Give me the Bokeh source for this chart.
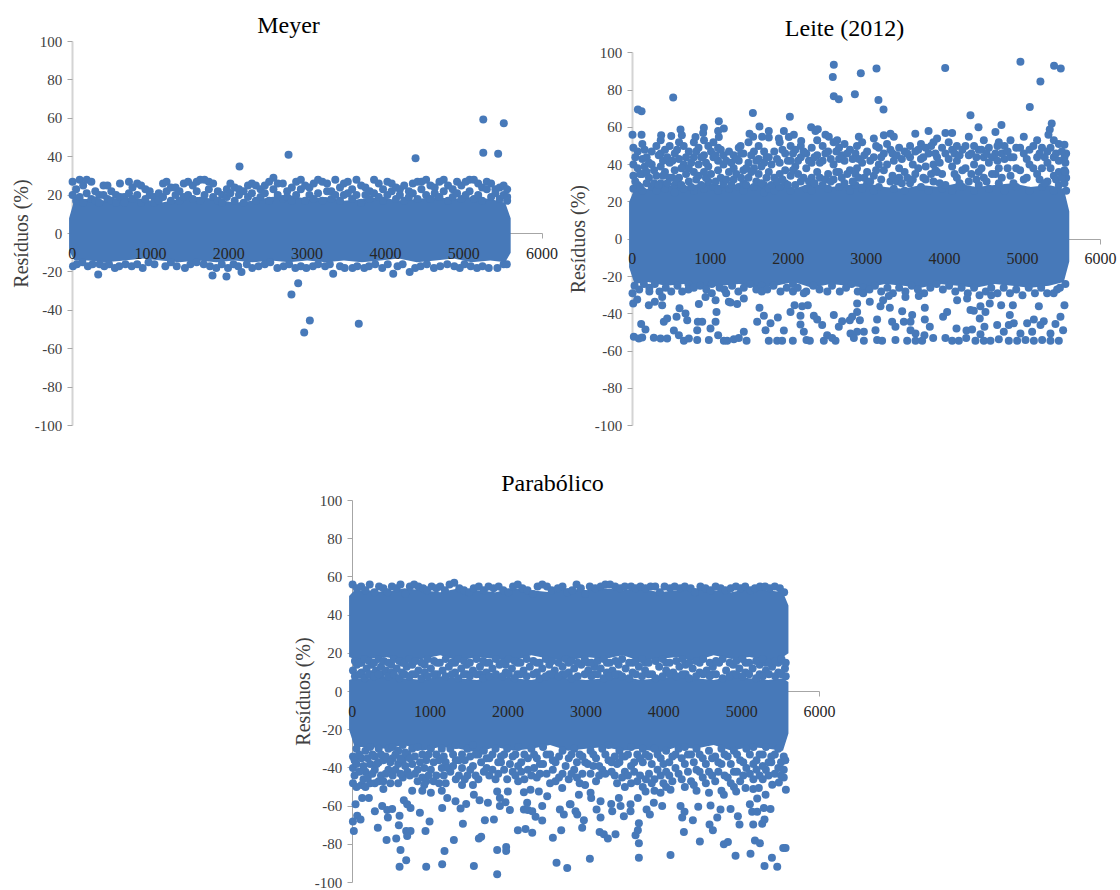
import math
from bokeh.embed import file_html
from bokeh.layouts import column, row
from bokeh.models import FixedTicker, Label, LinearAxis, Range1d
from bokeh.plotting import figure
from bokeh.resources import INLINE

x_ticks = [0, 1000, 2000, 3000, 4000, 5000, 6000]
y_ticks = [-100, -80, -60, -40, -20, 0, 20, 40, 60, 80, 100]
y_label = "Resíduos (%)"

# Saturated cores: envelope of the merged dots
core_x = [-40,30,200,430,670,900,1130,1370,1600,1840,2070,2300,2540,2770,3000,3240,3470,3700,3940,4170,4400,4640,4870,5100,5340,5530,5600]
meyer_hi = [8,18,18,17,19,18,16,18,19,18,16,17,19,20,18,19,17,18,19,17,18,19,18,19,18,16,8]
meyer_lo = [-9,-14,-14,-15,-14,-13,-14,-15,-14,-15,-14,-15,-14,-15,-14,-15,-14,-15,-14,-13,-15,-14,-13,-15,-14,-15,-10]
leite_hi = [20,27,27,29,28,30,29,28,30,29,27,30,28,29,30,28,27,29,28,30,28,29,30,28,29,27,15]
leite_lo = [-15,-24,-23,-25,-24,-26,-25,-24,-26,-25,-23,-26,-24,-25,-26,-24,-25,-26,-24,-25,-26,-24,-25,-26,-25,-23,-12]
para_top_hi = [50,53,53,52,54,53,52,54,53,52,54,53,52,54,53,54,53,54,52,53,54,53,52,54,53,52,45]
para_top_lo = [18,17,17,18,16,17,19,16,18,17,16,19,17,16,18,17,19,16,17,18,16,19,17,18,16,18,20]
para_low_hi = [6,7,7,8,7,6,8,7,6,8,7,6,8,7,6,7,8,6,7,8,7,6,8,7,6,7,5]
para_low_lo = [-20,-29,-29,-30,-28,-31,-29,-30,-32,-29,-31,-30,-28,-31,-30,-29,-31,-30,-32,-29,-30,-28,-31,-29,-30,-31,-22]

# Each row: x, then the y values read at that x
meyer_upper = [[5,27,20],[50,23,17],[95,28,19],[140,25,16],[185,28,21],[245,27,18],[295,22,17],[345,20,16],[400,25,20],[450,25,18],[500,22,17],[560,20,16],[610,26,19],[665,19,16],[725,27,21],[770,24,18],[830,26,20],[880,25,16],[935,23,18],[990,22,20],[1045,19,16],[1105,21,17],[1160,26,19],[1205,27,22],[1260,24,17],[1320,24,20],[1370,22,17],[1425,26,19],[1480,27,20],[1540,25,18],[1590,27,22],[1635,28,17],[1690,28,20],[1745,27,23],[1800,26,19],[1860,22,17],[1915,20,16],[1975,23,19],[2020,26,21],[2075,24,17],[2130,23,20],[2190,22,16],[2245,25,19],[2295,26,21],[2345,25,17],[2405,23,19],[2460,25,21],[2515,27,17],[2570,29,23],[2625,26,20],[2690,26,18],[2745,22,19],[2805,24,17],[2860,27,20],[2920,28,23],[2975,25,17],[3030,24,20],[3085,26,18],[3140,28,21],[3195,27,17],[3255,26,22],[3310,22,18],[3360,28,20],[3420,24,17],[3470,26,20],[3520,27,21],[3575,23,18],[3630,28,20],[3690,25,16],[3745,24,20],[3800,22,18],[3855,28,21],[3915,26,19],[3970,23,17],[4025,27,20],[4080,26,22],[4135,24,18],[4185,23,20],[4240,25,17],[4300,22,19],[4350,26,21],[4410,27,18],[4460,27,23],[4520,28,20],[4575,25,18],[4630,24,21],[4690,27,19],[4745,28,22],[4800,25,17],[4860,23,19],[4915,27,21],[4970,25,18],[5025,27,20],[5075,28,22],[5130,28,18],[5185,26,20],[5235,24,17],[5295,27,23],[5350,26,19],[5405,23,21],[5460,24,18],[5510,25,20],[5555,23,19,17]]
meyer_lower = [[10,-17],[60,-16],[130,-15],[200,-17],[260,-16],[350,-16],[410,-17],[470,-16],[545,-18],[600,-17],[680,-16],[760,-17],[830,-16],[900,-18],[975,-15],[1050,-16],[1190,-17],[1260,-15],[1335,-17],[1440,-18],[1510,-16],[1590,-15],[1680,-16],[1760,-17],[1840,-18],[1910,-16],[1990,-18],[2060,-16],[2120,-17],[2230,-16],[2300,-18],[2380,-17],[2460,-16],[2530,-15],[2620,-18],[2700,-17],[2770,-16],[2850,-18],[2920,-17],[2990,-18],[3075,-17],[3140,-16],[3230,-17],[3290,-16],[3420,-17],[3480,-18],[3580,-18],[3640,-17],[3730,-18],[3790,-17],[3870,-16],[3960,-18],[4030,-16],[4155,-17],[4220,-16],[4380,-18],[4450,-17],[4530,-16],[4620,-18],[4700,-17],[4790,-16],[4880,-17],[4950,-18],[5010,-16],[5090,-17],[5170,-18],[5240,-17],[5320,-18],[5430,-18],[5510,-16],[5550,-16]]
meyer_x = [2137,2763,5250,5512,5250,5440,4385,2800,2886,2963,3035,3660,3333,4100,4310,332,1792,1970,2162]
meyer_y = [34.9,41,59.4,57.4,42,41.6,39.2,-31.8,-25.9,-51.6,-45.3,-47,-21,-21,-20,-21.3,-21.9,-22.4,-20]

leite_upper = [[15,49,40,34,27],[70,47,38,29],[130,51,43,35,26],[185,44,36,30],[250,47,40,28],[310,50,34,26],[365,53,46,39,30],[420,48,36,27],[480,50,41,33],[545,46,37,29,25],[600,52,43,33],[660,50,40,27],[725,47,38,31],[790,52,44,36,26],[850,49,40,34],[920,53,45,36,27],[975,50,39,31],[1040,52,44,28],[1100,49,42,37,26],[1170,45,40,30],[1240,47,36,27],[1300,45,38,32],[1365,49,42,28],[1425,46,37,30,26],[1490,52,41,33],[1560,47,38,28],[1620,50,43,35],[1690,47,41,29,25],[1750,44,36,27],[1820,47,33,26],[1890,52,41,35,28],[1960,46,37,30],[2030,50,42,34,26],[2090,48,39,29],[2160,50,44,31],[2230,46,38,27],[2300,49,41,33,26],[2370,53,45,36],[2440,50,42,29],[2510,47,35,27],[2580,52,40,32],[2650,49,43,36,28],[2720,51,42,30],[2790,48,37,26],[2860,46,35,29],[2904,55,43,33],[2946,52,41,27],[3010,47,36,30],[3096,54,44,34,26],[3160,49,40,28],[3224,55.7,46,37],[3309,56.6,48,31],[3352,55,42,27],[3420,49,38,33],[3490,47,36,26],[3560,50,44,30],[3627,56.6,47,35],[3700,51,43,28],[3760,49,39,32],[3797,58,46,26],[3860,52,40,31],[3906,54,44,36],[3970,49,35,27],[4013,57,46,29],[4099,57,48,39,26],[4160,50,42,33],[4230,48,37,28],[4313,55,45,31],[4380,50,40,26],[4440,48,36,29],[4505,53,44,33],[4570,49,41,27],[4654,57.5,46,35],[4697,52,38,30],[4770,50,43,26],[4847,53,44,34],[4920,49,38,28],[5017,55,46,32],[5090,48,40,26],[5188,53,44,35],[5250,49,38,28],[5320,47,41,31],[5402,53,44,34,26],[5466,51,42,36,29],[5538,50.7,44,37,30],[5560,46,33,26]]
leite_upper2 = [[40,44,31],[100,35,28],[160,48,39],[215,41,33],[280,37,30],[340,45,29],[395,42,34],[450,44,30],[515,42,33],[575,48,31],[630,38,29],[690,44,35],[755,41,28],[820,47,32],[885,44,29],[945,41,33],[1010,47,35],[1070,45,31],[1135,48,33],[1205,42,32],[1270,41,29],[1335,43,35],[1395,46,33],[1460,38,29],[1525,45,36],[1590,42,31],[1655,39,30],[1720,44,33],[1785,40,29],[1855,43,31],[1925,48,32],[1995,42,29],[2060,46,37],[2125,42,35],[2195,47,33],[2265,42,31],[2335,44,30],[2405,41,33],[2475,46,32],[2545,43,31],[2615,47,36],[2685,45,33],[2755,46,35],[2825,43,31],[2880,50,38],[2975,45,33],[3050,42,31],[3125,50,37],[3190,44,32],[3265,51,40],[3335,46,34],[3390,45,31],[3455,43,30],[3525,46,33],[3595,40,32],[3665,48,38],[3730,44,33],[3830,50,35],[3885,46,37],[3940,41,30],[4055,52,43],[4130,46,35],[4195,45,30],[4270,50,38],[4345,46,35],[4410,44,32],[4475,48,38],[4540,46,31],[4610,44,35],[4680,50,42],[4735,46,33],[4810,47,38],[4885,44,30],[4970,49,37],[5055,43,33],[5140,50,38],[5220,46,32],[5285,44,30],[5360,49,38],[5430,46,32],[5505,47,33],[5550,41,36]]
leite_lower = [[30,-25],[90,-27],[150,-24],[220,-26,-28],[290,-24],[350,-28],[430,-26],[500,-28],[580,-25],[640,-28],[720,-24,-27],[790,-26],[870,-25],[950,-27],[1020,-24,-29],[1120,-26],[1180,-27],[1280,-25],[1360,-28],[1430,-26],[1510,-24],[1590,-27],[1660,-25,-28],[1730,-27],[1810,-25],[1900,-28],[1980,-26],[2060,-24,-28],[2120,-26],[2230,-28],[2320,-25],[2400,-27],[2500,-28],[2560,-25],[2660,-28],[2740,-26],[2810,-24],[2890,-28],[2960,-26,-29],[3040,-27],[3110,-25],[3190,-28],[3270,-26],[3340,-29],[3420,-26],[3500,-28],[3580,-25],[3660,-27],[3740,-29],[3820,-26],[3900,-24],[3980,-27],[4060,-25],[4140,-28],[4220,-26],[4300,-29],[4380,-26],[4450,-30],[4530,-28],[4600,-26,-30],[4680,-29],[4760,-26],[4840,-29],[4920,-27],[5000,-30],[5080,-26],[5160,-29],[5240,-26],[5400,-29],[5480,-26],[5550,-24]]
leite_x = [525,73,120,1546,2020,2583,2570,2583,2647,2929,3130,2853,3155,3220,4010,4974,5230,5405,5491,5094,4334,4437,4731,5375,5350,5333,4,120,371,500,619,636,918,909,811,1110,1174,1101,1110,1388,1503,1550,1631,1665,1750,1750,1943,1879,2071,2007,2165,2293,2348,2378,2476,2519,2626,4,13,64,213,290,384,384,115,170,21,85,128,277,363,448,405,448,568,606,683,705,534,598,662,726,833,854,841,897,833,982,1003,1068,1080,1068,939,1101,1174,1217,1238,1260,1204,1345,1430,1302,1366,1430,1465,1631,1601,1687,1772,1866,1708,1750,1857,1921,1943,2058,2028,2080,2199,2178,2156,2156,2199,2233,2276,2250,2327,2370,2434,2455,2498,2583,2562,2605,2647,2882,3044,2882,2818,2788,2917,3138,2690,2797,2882,2968,2840,2968,3117,3138,3202,3181,3215,3288,3301,3330,3373,3480,3459,3587,3566,3566,3373,3523,3630,3630,3715,3744,3856,3749,3749,3813,3672,3501,3983,4035,4013,4099,4185,4155,4279,4283,4355,4163,4291,4334,4377,4453,4462,4526,4581,4513,4462,4398,4505,4590,4697,4676,4727,4877,4838,4825,4761,4889,4825,4974,4932,5060,5146,5273,5231,5210,5124,5039,5146,5252,5359,5359,5466,5423,5487,5538,5521,5316,5444]
leite_y = [76,69.5,68.6,67.7,65.7,93.6,87,76.7,75,89,91.5,77.7,74.7,69.5,91.8,95.2,84.5,93,91.5,70.9,66.5,60,61.3,62,58.8,56,56,56,55.7,55.4,58.8,55.7,59.7,57,54.8,63.2,59.3,58,54.8,50,56.6,55,60.4,55,58,54.5,58,54,56,54.8,52.7,60,58,59,56,55,53,-29,-34.5,-32.3,-35.4,-33.6,-31,-35.4,-45.5,-48.4,-52.3,-53.2,-52.7,-52.9,-53.2,-53.2,-44.3,-42.5,-41.6,-37,-39.9,-43.4,-49,-51.5,-54.5,-53.2,-54,-34.8,-44.3,-44.3,-48.8,-54,-47.9,-44.3,-39,-32.7,-31,-51.5,-54.5,-54.5,-33.6,-34,-29,-34.8,-31.8,-53.7,-53,-49.6,-54.5,-36.8,-44.3,-41,-45,-42,-48.8,-54.5,-54.5,-54.5,-49,-54.5,-39,-35.4,-29,-36,-41,-45.7,-49.6,-54,-54.5,-35.4,-41,-43,-46,-54.5,-51.5,-40.7,-53,-54.5,-47,-34.5,-33.6,-39,-41.6,-43.4,-43.4,-43,-44,-50.5,-49.6,-49.6,-53,-54.5,-48.8,-54,-54.5,-36,-32.7,-30.5,-36.8,-44.3,-47,-44.3,-38.6,-40.7,-44.3,-48.8,-54,-54.5,-50.5,-54.5,-54.5,-51.5,-53,-36.8,-43,-47,-30.5,-31,-41.6,-39,-53,-54.5,-54.5,-47.9,-53,-49,-48.4,-32.7,-31.8,-38,-38.4,-42.5,-36,-39,-34.5,-47,-51,-54.5,-54.5,-54.5,-53.7,-46,-35.4,-35.4,-40.7,-46,-49.6,-45,-54.5,-50.5,-54.5,-45,-43,-44,-46,-36,-49.6,-54,-54.5,-54,-50.5,-54.5,-54.5,-45.5,-41.6,-35.4,-48.8,-29,-27]

para_top_row = [[5,56],[60,54],[115,55],[170,53],[225,56],[285,52],[345,55],[400,54],[455,52],[510,55],[570,54],[620,56],[680,51],[740,55],[795,56],[850,55],[910,54],[960,53],[1020,55],[1080,54],[1130,55],[1190,53],[1250,56],[1310,57],[1375,54],[1435,53],[1500,52],[1560,54],[1625,55],[1690,53],[1750,55],[1815,54],[1880,55],[1940,53],[2005,52],[2065,55],[2125,56],[2185,54],[2250,53],[2320,51],[2380,55],[2440,56],[2500,55],[2560,53],[2640,54],[2700,55],[2760,52],[2825,53],[2880,56],[2935,54],[2990,51],[3050,55],[3120,54],[3190,55],[3250,56],[3310,56],[3375,55],[3440,54],[3500,55],[3580,55],[3640,54],[3700,55],[3765,54],[3830,55],[3890,55],[3950,52],[4010,55],[4080,54],[4140,55],[4210,54],[4270,55],[4345,54],[4400,52],[4470,55],[4535,54],[4600,53],[4665,55],[4730,54],[4790,53],[4860,54],[4925,55],[4985,54],[5045,55],[5110,53],[5170,54],[5235,55],[5300,55],[5360,54],[5425,55],[5490,54],[5545,52]]
para_mid = [[10,11],[60,14],[120,10,15],[185,12],[250,9,14],[305,11],[370,13,9],[430,11],[500,14,10],[570,12],[640,10,15],[700,13],[770,9,14],[850,11],[930,14,10],[1010,12],[1090,15,9],[1160,11],[1240,13],[1320,10,15],[1400,12],[1470,14,9],[1550,11],[1640,13,9],[1720,10,15],[1800,12],[1890,14],[1970,10,14],[2050,12],[2120,15,9],[2200,11],[2280,13],[2370,10,15],[2440,12],[2530,14,9],[2600,11],[2700,13,9],[2780,10,15],[2850,12],[2940,14],[3030,11,15],[3110,9,13],[3190,12],[3270,15,10],[3340,11],[3420,14,9],[3510,12],[3600,10,15],[3680,13],[3760,11,15],[3850,9],[3940,13],[4030,11,15],[4120,10],[4200,13],[4280,9,14],[4370,12],[4460,15,10],[4550,11],[4630,13,9],[4710,15],[4800,11],[4890,14,9],[4970,12],[5050,15,10],[5140,12],[5230,14,9],[5310,11,15],[5390,13],[5470,10,15],[5555,12]]
para_edge = [[35,16,8],[95,15,9],[160,17,7],[215,16,9],[280,15,8],[340,17,9],[405,16],[465,15,8],[535,17,9],[605,16,7],[670,15,9],[735,17,8],[810,16,9],[890,15,7],[970,17,8],[1050,16,9],[1125,15],[1200,17,8],[1280,15,9],[1360,17,7],[1435,16,9],[1510,15,8],[1595,17,9],[1680,16,7],[1760,15,8],[1845,17,9],[1930,15,8],[2010,17,9],[2085,16,7],[2160,15,9],[2240,17,8],[2325,16,9],[2405,15,7],[2485,17,8],[2565,16,9],[2650,15,8],[2740,17,9],[2815,16,7],[2895,15,8],[2985,17,9],[3070,15,8],[3150,16,9],[3230,17,7],[3305,15,8],[3380,16,9],[3465,17,8],[3555,15,7],[3640,16,9],[3720,17,8],[3805,15,9],[3895,16,7],[3985,17,8],[4075,15,9],[4160,16,8],[4240,17,9],[4325,15,7],[4415,16,8],[4505,17,9],[4590,15,8],[4670,16,9],[4755,17,7],[4845,15,8],[4930,16,9],[5010,17,8],[5095,15,9],[5185,16,7],[5270,17,8],[5350,15,9],[5430,16,8],[5510,17,9],[5565,15,8]]
para_low = [[10,-34,-40,-48],[55,-30,-38,-50],[120,-35,-49],[170,-31,-42,-50],[230,-29,-38,-48],[290,-34,-41,-48],[340,-30,-37,-47],[400,-36,-47,-51],[465,-30,-41],[520,-29,-35,-44],[590,-31,-38,-48],[650,-28,-36,-45],[710,-33,-42],[770,-30,-38,-52],[840,-29,-41,-47],[900,-33,-45,-52],[950,-36,-47],[1010,-30,-41,-53],[1080,-33,-44],[1150,-30,-40,-52],[1200,-37,-48],[1260,-30,-42],[1330,-28,-36,-46],[1410,-33,-40,-49],[1480,-30,-44],[1550,-28,-39,-49],[1620,-33,-46],[1690,-31,-42],[1760,-35,-44],[1840,-30,-46],[1910,-34,-37],[1990,-30,-46],[2060,-34,-42],[2130,-29,-39,-47],[2210,-33,-46],[2300,-30,-44],[2370,-35,-45],[2450,-29,-38],[2540,-33,-48],[2610,-37,-47],[2700,-31,-43],[2780,-35,-46],[2850,-30,-41],[2920,-33,-48],[2990,-37,-49],[3060,-31,-43,-53],[3130,-35,-47],[3210,-30,-41],[3290,-28,-36],[3370,-34,-44],[3430,-31,-37],[3500,-34,-42,-50],[3580,-29,-39,-48],[3660,-33,-47],[3730,-30,-37,-50],[3810,-34,-43],[3880,-30,-46,-52],[3960,-35,-44],[4030,-31,-42,-50],[4110,-34,-47],[4190,-30,-43],[4270,-29,-38,-50],[4350,-33,-47],[4420,-30,-41,-52],[4500,-35,-45],[4580,-31,-42,-53],[4660,-34,-47],[4740,-30,-38,-52],[4820,-34,-45],[4900,-31,-42,-50],[4980,-36,-47],[5060,-30,-40],[5150,-29,-38,-46],[5230,-33,-44],[5310,-29,-41],[5380,-34,-37],[5470,-30,-40],[5540,-34,-41,-45]]
para_low2 = [[30,-36,-44],[90,-33,-42],[145,-39,-46],[200,-35,-45],[260,-33,-43],[315,-38],[370,-33,-44],[430,-34,-43],[490,-37,-48],[555,-33,-41],[620,-35,-43],[680,-32,-39],[740,-35,-44],[805,-34,-43],[870,-37],[925,-40,-49],[980,-33,-44],[1045,-37,-47],[1115,-36,-48],[1175,-34,-44],[1230,-40],[1295,-33,-39],[1370,-36,-44],[1445,-36,-46],[1515,-34,-41],[1585,-33,-44],[1655,-37],[1725,-35,-40],[1800,-33,-41],[1875,-37,-43],[1950,-33,-41],[2025,-38],[2095,-33,-44],[2170,-37,-42],[2255,-35,-41],[2335,-33,-40],[2410,-38,-43],[2495,-33,-43],[2575,-36,-41],[2655,-34,-45],[2740,-39],[2815,-33,-43],[2885,-37,-45],[2955,-34,-43],[3025,-38],[3095,-33,-39],[3170,-39,-44],[3250,-33,-43],[3330,-37,-42],[3400,-38,-48],[3465,-34,-45],[3540,-33,-44],[3620,-37,-42],[3695,-35,-44],[3770,-33,-46],[3845,-38,-48],[3920,-33,-41],[3995,-38,-48],[4070,-37,-44],[4150,-33,-40],[4230,-35,-46],[4310,-33,-42],[4385,-37,-49],[4460,-33,-42],[4540,-38,-48],[4620,-35,-44],[4700,-37,-42],[4780,-33,-44],[4860,-38,-48],[4940,-33,-42],[5020,-37,-44],[5105,-33,-43],[5190,-36,-41],[5270,-33,-39,-46],[5345,-37,-44],[5425,-33,-43],[5505,-37,-44],[5560,-36]]
para_x = [21,9,64,107,43,128,214,291,329,385,449,458,513,441,565,608,599,620,608,693,663,706,749,693,749,706,869,941,993,950,1155,1185,1155,1220,1305,1326,1391,1463,1421,1562,1635,1562,1626,1656,1703,1819,1742,1861,1861,1861,1896,1896,1968,2024,1977,1977,1998,2127,2225,2311,2204,2204,2255,2289,2246,2354,2439,2311,2439,2396,2503,2576,2623,2683,2760,2717,2666,2794,2696,3051,3680,4086,2952,2974,3188,3176,3230,3282,3380,3637,3667,3680,3680,3137,3188,2803,2867,2889,2910,3068,3325,3338,3423,3445,3487,3573,3573,3667,3779,3821,3766,3872,3979,3958,4086,4215,4266,4236,4373,4258,4442,4463,4587,4630,4686,4600,4728,4857,4951,4972,4771,4823,4921,5113,5170,5234,5293,5388,5456,5533,5563,5148,5263,5293,5105,5199,5134,5199,5285,5370,5306,5392,5477,5567,5049,5148,5220,4929,4771]
para_y = [-73,-68,-65,-67,-59,-55.7,-55.7,-62.7,-71.4,-60,-62,-66,-61.5,-77.8,-77,-65,-70,-83,-91.8,-88.4,-57,-59,-61,-73,-73,-75.7,-63.5,-73,-68,-91.8,-90.5,-83.5,-61,-55.7,-77.8,-57.5,-61.3,-58.9,-69.3,-54,-57,-91.3,-77,-76,-67.4,-67,-58.3,-83,-95.7,-52.3,-55.7,-60,-58,-62,-81.4,-83.5,-52.3,-72.6,-72,-74,-52.8,-61.8,-62,-51.4,-58.3,-65.6,-67.5,-62.7,-60,-52.3,-54.9,-76.6,-89.6,-72.6,-92.4,-64.4,-61.8,-59,-50.5,-87.5,-87,-85.6,-71.4,-67.4,-66,-73.6,-74.8,-77,-74.8,-75.3,-72.6,-69,-79.5,-61.8,-57.5,-59,-62.7,-64.4,-54,-55.7,-58.9,-62.7,-55.7,-60,-65.3,-62.7,-59,-55.7,-61.8,-64.4,-52.3,-58.3,-60,-53,-51.4,-60,-63,-66,-67.4,-73.6,-60.4,-78.5,-69.6,-72.7,-66,-59.7,-61.8,-61.5,-65.3,-69.6,-80,-78.8,-86,-84.9,-78,-79.5,-91.3,-87,-91.7,-82,-82,-69.6,-69.3,-67,-59,-56,-63,-63,-61,-61.5,-54,-48.8,-47.6,-51.4,-50.5,-51,-50.5,-52.3,-54]

BLUE = "#4779b9"
FONT = "Liberation Serif"


def flatten(rows):
    xs, ys = [], []
    for r in rows:
        for y in r[1:]:
            xs.append(r[0])
            ys.append(y)
    return xs, ys


def panel(title, fig_x, fig_y, w, h, x0, y0, sx, sy, title_c, ylab_x, axis_w, axis_c):
    """The frame fills the figure so that axes and labels are not clipped.
    x0, y0: page pixel of data (0, 0); sx, sy: pixels per data unit."""
    to_x = lambda px: (px - x0) / sx
    to_y = lambda py: (y0 - py) / sy
    p = figure(frame_width=w, frame_height=h,
               x_range=Range1d(to_x(fig_x), to_x(fig_x + w)),
               y_range=Range1d(to_y(fig_y + h), to_y(fig_y)),
               min_border=0, toolbar_location=None, output_backend="svg",
               background_fill_color="white", border_fill_color="white", outline_line_color=None)
    p.grid.visible = False

    # Axis line and ticks lie under the dots, as in the reference
    xa = p.xaxis[0]
    xa.fixed_location = 0
    xa.bounds = (0, 6000)
    xa.level = "underlay"
    xa.ticker = FixedTicker(ticks=x_ticks)
    xa.axis_line_color = "#a6a6a6"
    xa.major_tick_line_color = "#a6a6a6"
    xa.major_tick_out = 5
    xa.major_tick_in = 0
    xa.minor_tick_line_color = None
    xa.major_label_overrides = {t: "" for t in x_ticks}

    # The tick labels lie over the dots
    xl = LinearAxis(fixed_location=0, bounds=(0, 6000), ticker=FixedTicker(ticks=x_ticks),
                    axis_line_color=None, major_tick_line_color=None, minor_tick_line_color=None,
                    major_tick_out=5, major_tick_in=0, major_label_standoff=9,
                    major_label_text_font=FONT, major_label_text_font_size="16px",
                    major_label_text_color="#262626")
    p.add_layout(xl, "below")

    ya = p.yaxis[0]
    ya.fixed_location = 0
    ya.bounds = (-100, 100)
    ya.level = "underlay"
    ya.ticker = FixedTicker(ticks=y_ticks)
    ya.major_label_overrides = {t: str(t) for t in y_ticks}
    ya.axis_line_color = axis_c
    ya.axis_line_width = axis_w
    ya.major_tick_line_color = "#a6a6a6"
    ya.major_tick_out = 5
    ya.major_tick_in = 0
    ya.minor_tick_line_color = None
    ya.major_label_standoff = 5
    ya.major_label_text_font = FONT
    ya.major_label_text_font_size = "15px"
    ya.major_label_text_color = "#404040"

    p.add_layout(Label(x=to_x(title_c[0]), y=to_y(title_c[1]), text=title, text_font=FONT, text_font_size="24px",
                       text_color="black", text_align="center", text_baseline="middle"))
    p.add_layout(Label(x=to_x(ylab_x), y=0, text=y_label, angle=math.pi / 2, text_font=FONT, text_font_size="20px",
                       text_color="#404040", text_align="center", text_baseline="middle"))
    return p


def dots(p, xs, ys):
    p.scatter(xs, ys, size=8, marker="circle", fill_color=BLUE, line_color=None)


# Meyer
p1 = panel("Meyer", 0, 0, 560, 440, 71.7, 233, 0.0783, 1.92, (288, 24), 20, 2, "#d4d4d4")
p1.varea(core_x, meyer_lo, meyer_hi, fill_color=BLUE)
for rows in (meyer_upper, meyer_lower):
    dots(p1, *flatten(rows))
dots(p1, meyer_x, meyer_y)

# Leite (2012)
p2 = panel("Leite (2012)", 560, 0, 560, 440, 631.7, 238.7, 0.07805, 1.865, (844, 27), 577, 2, "#d4d4d4")
p2.varea(core_x, leite_lo, leite_hi, fill_color=BLUE)
for rows in (leite_upper, leite_upper2, leite_lower):
    dots(p2, *flatten(rows))
dots(p2, leite_x, leite_y)

# Parabólico
p3 = panel("Parabólico", 0, 440, 1120, 450, 351.7, 691, 0.0779, 1.91, (552, 482), 302, 1, "#a6a6a6")
p3.varea(core_x, para_top_lo, para_top_hi, fill_color=BLUE)
p3.varea(core_x, para_low_lo, para_low_hi, fill_color=BLUE)
for rows in (para_top_row, para_mid, para_edge, para_low, para_low2):
    dots(p3, *flatten(rows))
dots(p3, para_x, para_y)

layout = column(row(p1, p2, spacing=0), p3, spacing=0)
open("out.html", "w").write(file_html(layout, INLINE))
